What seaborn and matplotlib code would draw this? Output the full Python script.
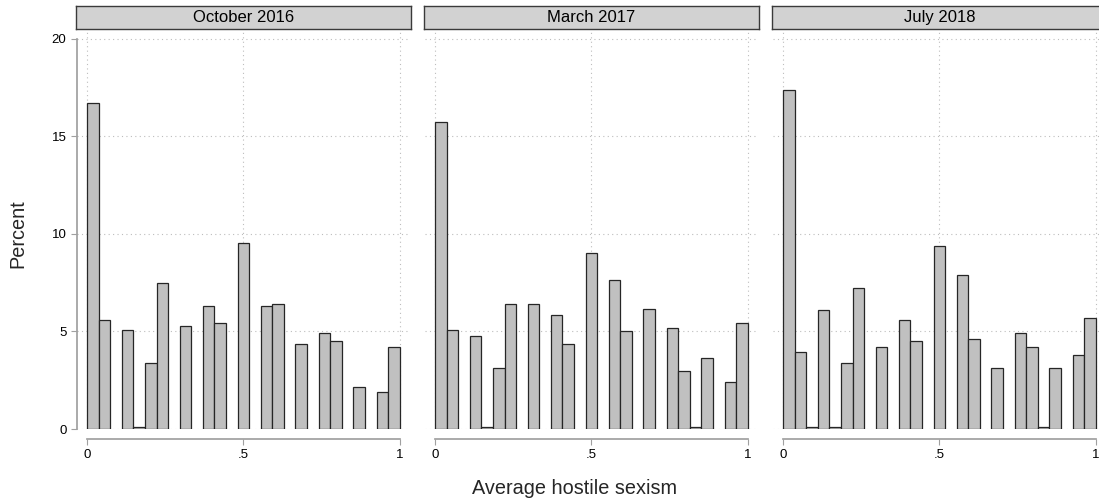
import seaborn as sns
import matplotlib.pyplot as plt
import numpy as np
import pandas as pd

sns.set_theme(style="white")
plt.rcParams['font.family'] = ['Liberation Sans', 'DejaVu Sans']

# percent of respondents per bin (27 equal bins on 0..1)
n_bins = 27
waves = ['October 2016', 'March 2017', 'July 2018']
oct16 = [16.7, 5.6, 0, 5.05, 0.1, 3.4, 7.5, 0, 5.3, 0, 6.3, 5.45, 0, 9.55, 0,
         6.3, 6.4, 0, 4.35, 0, 4.9, 4.5, 0, 2.15, 0, 1.9, 4.2]
mar17 = [15.75, 5.05, 0, 4.76, 0.1, 3.13, 6.42, 0, 6.42, 0, 5.86, 4.35, 0, 9.02, 0,
         7.64, 5.03, 0, 6.15, 0, 5.17, 2.98, 0.1, 3.66, 0, 2.43, 5.45]
jul18 = [17.35, 3.94, 0.1, 6.11, 0.1, 3.37, 7.23, 0, 4.21, 0, 5.58, 4.49, 0, 9.38, 0,
         7.91, 4.62, 0, 3.12, 0, 4.9, 4.21, 0.1, 3.12, 0, 3.8, 5.7]
y_ticks = [0, 5, 10, 15, 20]
x_ticks = [0, 0.5, 1]
x_ticklabels = ['0', '.5', '1']

centers = (np.arange(n_bins) + 0.5) / n_bins

W, H = 1099, 504
fig = plt.figure(figsize=(W / 100, H / 100), dpi=100)
lefts = [76.5, 424.5, 772.5]
grey = '#a0a0a0'

for i, (name, pct) in enumerate(zip(waves, [oct16, mar17, jul18])):
    ax = fig.add_axes([lefts[i] / W, 75 / H, 333.5 / W, 400 / H])
    df = pd.DataFrame({'hs': centers, 'pct': pct})
    df = df[df.pct > 0]
    sns.histplot(data=df, x='hs', weights='pct', bins=n_bins, binrange=(0, 1), ax=ax,
                 color='#c0c0c0', edgecolor='#262626', linewidth=0.9, alpha=1)
    for p in ax.patches:
        if p.get_height() == 0:
            p.set_visible(False)

    ax.set_xlim(-0.034, 1.033)
    ax.set_ylim(0, 20.5)
    ax.set_xticks(x_ticks)
    ax.set_xticklabels(x_ticklabels)
    ax.set_yticks(y_ticks)
    ax.set_yticklabels([str(t) for t in y_ticks])
    ax.set_xlabel('')
    ax.set_ylabel('')
    ax.set_axisbelow(True)
    ax.grid(True, linestyle=(0, (1, 3)), color='#bdbdbd', linewidth=0.8)

    for s in ['top', 'right']:
        ax.spines[s].set_visible(False)
    ax.spines['bottom'].set_position(('outward', 7.2))
    ax.spines['bottom'].set_bounds(0, 1)
    ax.spines['bottom'].set_color(grey)
    ax.spines['left'].set_bounds(0, 20)
    ax.spines['left'].set_color(grey)
    ax.tick_params(axis='both', direction='out', length=4.3, width=0.8, color=grey,
                   labelsize=9.5, labelcolor='black', pad=2.9)
    ax.tick_params(axis='x', bottom=True)
    ax.tick_params(axis='y', left=True)
    if i > 0:
        ax.spines['left'].set_visible(False)
        ax.tick_params(axis='y', left=False, labelleft=False)

    # strip header
    sax = fig.add_axes([(lefts[i] - 0.5) / W, (H - 28.5) / H, 335 / W, 22.5 / H])
    sax.set_facecolor('#d2d2d2')
    sax.set_xticks([])
    sax.set_yticks([])
    for s in sax.spines.values():
        s.set_visible(True)
        s.set_color('#3a3a3a')
        s.set_linewidth(1.0)
    sax.text(0.5, 0.5, name, ha='center', va='center', fontsize=12, color='black',
             transform=sax.transAxes)

fig.text(17.5 / W, 1 - 234 / H, 'Percent', rotation=90, ha='center', va='center', fontsize=14.3)
fig.text(575 / W, 1 - 488 / H, 'Average hostile sexism', ha='center', va='center', fontsize=14.3)

fig.savefig('out.png', dpi=100)
